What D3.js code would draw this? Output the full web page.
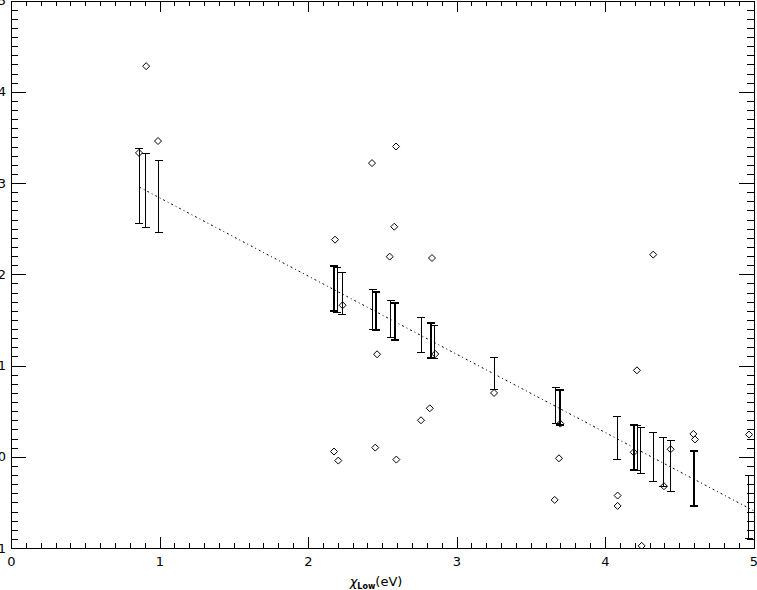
<!DOCTYPE html>
<html>
<head>
<meta charset="utf-8">
<script src="https://cdn.jsdelivr.net/npm/d3@7"></script>
<style>
  body { margin: 0; background: #fff; }
  text { font-family: "DejaVu Sans", sans-serif; fill: #000; }
</style>
</head>
<body>
<div id="c1"></div>
<script>
// Data
var xTicks = [0, 1, 2, 3, 4, 5];
var yTicks = [-1, 0, 1, 2, 3, 4, 5];

// diamonds
var pointX = [0.91, 0.99, 0.862, 2.593, 2.431, 2.581, 2.182, 2.55, 2.835, 2.233, 2.465, 2.857,
              2.82, 2.761, 2.453, 2.175, 2.204, 2.595, 4.325, 4.215, 3.253, 3.699, 3.69, 4.97,
              4.595, 4.606, 4.442, 4.193, 3.661, 4.085, 4.085, 4.397, 4.247];
var pointY = [4.28, 3.46, 3.33, 3.40, 3.218, 2.521, 2.379, 2.193, 2.178, 1.66, 1.123, 1.126,
              0.531, 0.40, 0.10, 0.057, -0.042, -0.031, 2.215, 0.947, 0.699, 0.363, -0.017, 0.243,
              0.25, 0.19, 0.082, 0.049, -0.473, -0.425, -0.539, -0.323, -0.977];

// error bars
var barX    = [0.862, 0.909, 0.995, 2.175, 2.197, 2.229, 2.436, 2.458, 2.557, 2.588, 2.761, 2.828, 2.851,
               3.253, 3.667, 3.694, 4.083, 4.197, 4.218, 4.242, 4.325, 4.393, 4.444, 4.597, 4.968];
var barHigh = [3.376, 3.321, 3.244, 2.087, 2.072, 2.018, 1.831, 1.802, 1.707, 1.685, 1.525, 1.466, 1.440,
               1.093, 0.758, 0.734, 0.440, 0.353, 0.345, 0.320, 0.265, 0.210, 0.173, 0.060, -0.206];
var barLow  = [2.554, 2.510, 2.456, 1.594, 1.586, 1.561, 1.400, 1.389, 1.312, 1.284, 1.141, 1.082, 1.082,
               0.736, 0.367, 0.345, -0.031, -0.140, -0.156, -0.181, -0.268, -0.323, -0.378, -0.542, -0.896];
var barHeavy = [0, 0, 0, 1, 0, 0, 0, 1, 0, 1, 0, 1, 0,
                0, 0, 1, 0, 1, 0, 0, 0, 0, 0, 1, 0];

// dash-dot fit line
var fitX = [0.864, 5];
var fitY = [2.955, -0.59];

var w = 757, h = 590;
var padL = 11, padR = 753.5, padT = 0.5, padB = 548;

function draw() {
    var svg = d3.select("#c1").append("svg")
        .attr("width", w)
        .attr("height", h);

    var x = d3.scaleLinear().domain([0, 5]).range([padL, padR]);
    var y = d3.scaleLinear().domain([-1, 5]).range([padB, padT]);

    var xMinor = d3.range(0, 50).filter(function (i) { return i % 10 != 0; }).map(function (i) { return i / 10; });
    var yMinor = d3.range(-10, 50).filter(function (i) { return i % 10 != 0; }).map(function (i) { return i / 10; });

    // axes (IDL style box, ticks inward)
    svg.append("g").attr("class", "ax").attr("transform", "translate(0," + padB + ")")
        .call(d3.axisBottom(x).tickValues(xTicks).tickSize(-11).tickPadding(9).tickFormat(String));
    svg.append("g").attr("class", "ax").attr("transform", "translate(0," + padB + ")")
        .call(d3.axisBottom(x).tickValues(xMinor).tickSize(-5).tickFormat(""));
    svg.append("g").attr("class", "ax").attr("transform", "translate(0," + padT + ")")
        .call(d3.axisTop(x).tickValues(xTicks).tickSize(-11).tickFormat(""));
    svg.append("g").attr("class", "ax").attr("transform", "translate(0," + padT + ")")
        .call(d3.axisTop(x).tickValues(xMinor).tickSize(-5).tickFormat(""));

    svg.append("g").attr("class", "ax").attr("transform", "translate(" + padL + ",0)")
        .call(d3.axisLeft(y).tickValues(yTicks).tickSize(-15).tickPadding(5).tickFormat(String));
    svg.append("g").attr("class", "ax").attr("transform", "translate(" + padL + ",0)")
        .call(d3.axisLeft(y).tickValues(yMinor).tickSize(-7).tickFormat(""));
    svg.append("g").attr("class", "ax").attr("transform", "translate(" + padR + ",0)")
        .call(d3.axisRight(y).tickValues(yTicks).tickSize(-15).tickFormat(""));
    svg.append("g").attr("class", "ax").attr("transform", "translate(" + padR + ",0)")
        .call(d3.axisRight(y).tickValues(yMinor).tickSize(-7).tickFormat(""));

    svg.selectAll(".ax path, .ax line")
        .attr("stroke", "#000")
        .attr("stroke-width", 1)
        .attr("shape-rendering", "crispEdges");
    svg.selectAll(".ax text")
        .attr("font-size", 13)
        .attr("font-family", "DejaVu Sans, sans-serif");

    // clip to plot box
    svg.append("clipPath").attr("id", "clip")
        .append("rect")
        .attr("x", padL).attr("y", padT)
        .attr("width", padR - padL).attr("height", padB - padT);

    var plot = svg.append("g").attr("clip-path", "url(#clip)");

    // fit line
    var line = d3.line()
        .x(function (d) { return x(d[0]); })
        .y(function (d) { return y(d[1]); });
    plot.append("path")
        .datum(d3.zip(fitX, fitY))
        .attr("d", line)
        .attr("fill", "none")
        .attr("stroke", "#000")
        .attr("stroke-width", 1)
        .attr("stroke-dasharray", "2,3,1,3");

    // error bars
    var bars = d3.range(barX.length).map(function (i) {
        return { x: barX[i], lo: barLow[i], hi: barHigh[i], heavy: barHeavy[i] };
    });
    var bg = plot.selectAll("g.bar")
        .data(bars)
        .enter()
        .append("g")
        .attr("class", "bar")
        .attr("stroke", "#000")
        .attr("stroke-width", function (d) { return d.heavy ? 2 : 1; })
        .attr("shape-rendering", "crispEdges");
    bg.append("line")
        .attr("x1", function (d) { return x(d.x); })
        .attr("x2", function (d) { return x(d.x); })
        .attr("y1", function (d) { return y(d.hi); })
        .attr("y2", function (d) { return y(d.lo); });
    bg.append("line")
        .attr("x1", function (d) { return x(d.x) - 4; })
        .attr("x2", function (d) { return x(d.x) + 4; })
        .attr("y1", function (d) { return y(d.hi); })
        .attr("y2", function (d) { return y(d.hi); });
    bg.append("line")
        .attr("x1", function (d) { return x(d.x) - 4; })
        .attr("x2", function (d) { return x(d.x) + 4; })
        .attr("y1", function (d) { return y(d.lo); })
        .attr("y2", function (d) { return y(d.lo); });

    // diamonds
    plot.selectAll("path.pt")
        .data(d3.zip(pointX, pointY))
        .enter()
        .append("path")
        .attr("class", "pt")
        .attr("d", "M0,-3.5L3.5,0L0,3.5L-3.5,0Z")
        .attr("transform", function (d) {
            return "translate(" + x(d[0]) + "," + y(d[1]) + ")";
        })
        .attr("fill", "none")
        .attr("stroke", "#000")
        .attr("stroke-width", 1);

    // x title
    var t = svg.append("text")
        .attr("x", 376)
        .attr("y", 586)
        .attr("text-anchor", "middle")
        .attr("font-size", 13);
    t.append("tspan").attr("font-style", "italic").text("χ");
    t.append("tspan").attr("font-size", 8).attr("font-weight", "bold").attr("dy", 3).text("Low");
    t.append("tspan").attr("dy", -3).text("(eV)");
}

draw();
</script>
</body>
</html>
